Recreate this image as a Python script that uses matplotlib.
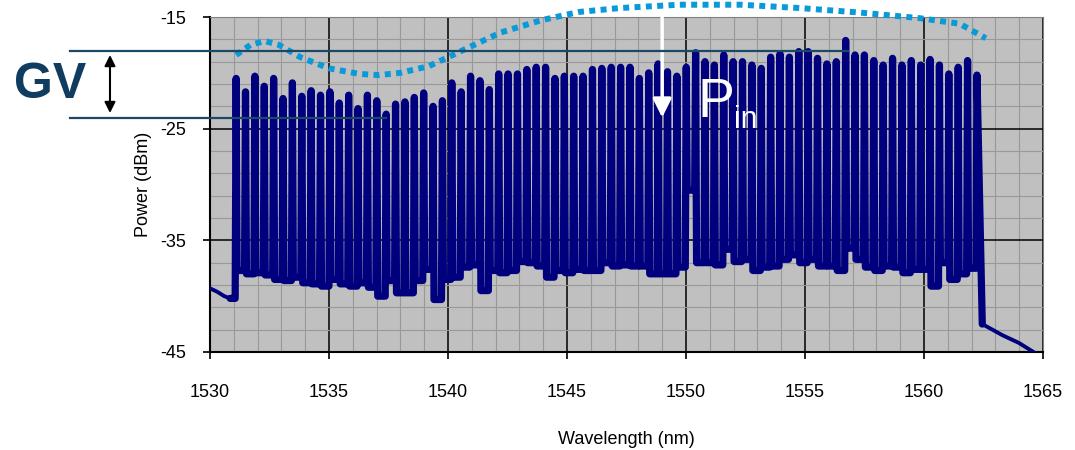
import numpy as np
import matplotlib.pyplot as plt
from matplotlib.ticker import MultipleLocator, FixedLocator

plt.rcParams['font.family'] = ['Liberation Sans', 'DejaVu Sans']
plt.rcParams['axes.unicode_minus'] = False

# peak power of each WDM channel (dBm), read left to right
peaks = [-20.5, -21.7, -20.3, -21.2, -20.5, -22.3, -20.9, -22.1, -21.6, -22.0,
         -21.7, -22.7, -22.0, -23.2, -22.0, -22.5, -23.7, -22.8, -22.6, -22.2,
         -21.8, -23.0, -22.5, -20.9, -21.7, -20.3, -20.7, -21.5, -20.1, -20.1,
         -20.1, -19.7, -19.5, -19.5, -20.5, -20.3, -20.3, -20.3, -19.7, -19.6,
         -19.5, -19.5, -19.5, -20.5, -20.0, -19.2, -19.9, -20.3, -19.5, -18.2,
         -19.0, -19.3, -18.4, -19.0, -19.0, -19.3, -19.6, -18.6, -18.3, -18.6,
         -18.1, -18.1, -18.7, -19.2, -19.0, -17.1, -18.4, -18.4, -18.9, -19.3,
         -18.7, -19.3, -18.9, -19.3, -18.8, -19.3, -20.1, -19.5, -18.9, -20.2]
# floor between neighbouring channels (dBm)
troughs = [-37.7, -38.0, -37.9, -38.1, -38.5, -38.6, -38.3, -38.8, -38.9, -39.1,
           -38.5, -38.9, -39.1, -38.8, -39.2, -40.0, -38.6, -39.7, -39.7, -38.6,
           -37.6, -40.3, -38.5, -38.3, -37.4, -37.2, -39.5, -37.7, -37.9, -37.7,
           -36.9, -37.0, -37.3, -38.3, -37.7, -37.9, -37.6, -37.7, -37.7, -37.0,
           -37.3, -37.2, -37.3, -37.3, -38.0, -38.0, -38.0, -37.4, -30.5, -37.0,
           -37.0, -37.2, -35.8, -36.9, -36.7, -37.7, -37.4, -37.3, -36.7, -36.3,
           -37.0, -36.7, -37.3, -37.3, -37.7, -35.7, -36.7, -37.4, -37.7, -37.3,
           -37.4, -37.9, -37.6, -37.6, -39.1, -37.0, -38.5, -38.0, -37.5]
ch_first = 1531.1
ch_step = 0.394

floor_left_wl = [1530.0, 1530.3, 1530.6, 1530.85]
floor_left_db = [-39.3, -39.6, -40.0, -40.2]
floor_right_wl = [1562.45, 1563.3, 1564.0, 1564.6]
floor_right_db = [-42.5, -43.5, -44.2, -45.0]

# gain profile (dotted curve)
gain_wl = [1531.1, 1531.7, 1532.3, 1532.9, 1533.8, 1535.0, 1536.3, 1537.1, 1538.0,
           1539.2, 1540.5, 1542.2, 1543.9, 1545.5, 1547.2, 1549.7, 1552.3, 1554.8,
           1557.3, 1559.8, 1561.5, 1562.6]
gain_db = [-18.4, -17.5, -17.15, -17.5, -18.6, -19.6, -20.1, -20.2, -20.0,
           -19.4, -18.1, -16.4, -15.3, -14.55, -14.2, -13.9, -13.9, -14.2,
           -14.6, -15.1, -15.6, -16.9]

y_ticks = [-45, -35, -25, -15]

# channel part of the trace
w = 0.04
wl = [floor_left_wl[-1]]
pw = [floor_left_db[-1]]
for i, p in enumerate(peaks):
    lam = ch_first + i * ch_step
    left = floor_left_db[-1] if i == 0 else troughs[i - 1]
    wl += [lam - w, lam]
    pw += [left, p]
    if i < len(troughs):
        wl.append(lam + w)
        pw.append(troughs[i])
wl.append(floor_right_wl[0])
pw.append(floor_right_db[0])

fig = plt.figure(figsize=(10.75, 4.5), dpi=100)
ax = fig.add_axes([0.1953, 0.2178, 0.7749, 0.7444])
ax.set_facecolor('#c0c0c0')

navy_trace = '#00007f'
ax.plot(floor_left_wl, floor_left_db, color=navy_trace, lw=2.8, zorder=3)
ax.plot(floor_right_wl, floor_right_db, color=navy_trace, lw=2.8, zorder=3)
ax.plot(wl, pw, color=navy_trace, lw=5.2, solid_joinstyle='round',
        solid_capstyle='round', zorder=3)
ax.plot(gain_wl, gain_db, color='#0b9ad8', lw=4.3, linestyle=(0, (1, 0.9)),
        dash_capstyle='butt', clip_on=False, zorder=4)

ax.set_xlim(1530, 1565)
ax.set_ylim(-45, -15)
ax.xaxis.set_major_locator(MultipleLocator(5))
ax.xaxis.set_minor_locator(MultipleLocator(1))
ax.yaxis.set_major_locator(FixedLocator(y_ticks))
ax.yaxis.set_minor_locator(MultipleLocator(2, offset=1))
ax.grid(which='major', color='black', lw=1.1, zorder=1)
ax.grid(which='minor', color='#999999', lw=0.8, zorder=1)
ax.set_axisbelow(True)
ax.tick_params(which='major', direction='out', length=5, width=1.2, labelsize=13)
ax.tick_params(axis='x', which='major', pad=18)
ax.tick_params(axis='y', which='major', pad=12)
ax.tick_params(which='minor', length=0)
for s in ['left', 'bottom']:
    ax.spines[s].set_linewidth(1.5)
for s in ['top', 'right']:
    ax.spines[s].set_color('#808080')

ax.set_xlabel('Wavelength (nm)', fontsize=13, labelpad=22)
ax.set_ylabel('Power (dBm)', fontsize=13, labelpad=6)

# GV markers
navy = '#103c60'
ax.plot([1524.1, 1556.8], [-18.0, -18.0], color='#1c4868', lw=1.6, clip_on=False, zorder=5)
ax.plot([1524.1, 1537.4], [-24.0, -24.0], color='#1c4868', lw=1.6, clip_on=False, zorder=5)
ax.annotate('', xy=(1525.8, -23.6), xytext=(1525.8, -18.4), annotation_clip=False,
            arrowprops=dict(arrowstyle='<|-|>', color='black', lw=1.5, mutation_scale=16,
                            shrinkA=0, shrinkB=0))
fig.text(0.047, 0.81, 'GV', fontsize=36, fontweight='bold', color=navy,
         ha='center', va='center')

# P_in arrow and label
ax.annotate('', xy=(1549.0, -24.0), xytext=(1549.0, -13.6), annotation_clip=False,
            arrowprops=dict(arrowstyle='-|>', color='white', lw=2.5, mutation_scale=28,
                            shrinkA=0, shrinkB=0))
ax.text(1550.5, -23.95, 'P', fontsize=40, color='white', ha='left', va='baseline', zorder=6)
ax.text(1552.0, -24.9, 'in', fontsize=22, color='white', ha='left', va='baseline', zorder=6)

fig.savefig('out.png', dpi=100)
